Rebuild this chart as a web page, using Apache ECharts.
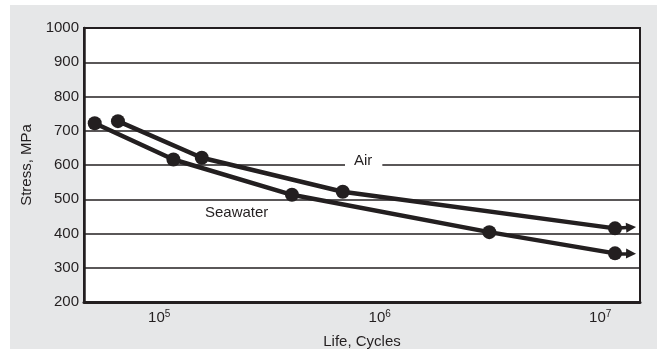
<!DOCTYPE html>
<html>
<head>
<meta charset="utf-8">
<script src="https://cdn.jsdelivr.net/npm/echarts@6/dist/echarts.min.js"></script>
<style>
  html, body { margin: 0; padding: 0; background: #ffffff; }
  #bg { position: absolute; left: 10px; top: 5px; width: 647px; height: 344px; background: #e6e7e8; }
  #chart { position: absolute; left: 0; top: 0; width: 657px; height: 349px; }
</style>
</head>
<body>
<div id="bg"></div>
<div id="chart"></div>
<script>
// Data (life in cycles, stress in MPa)
const airCycles = [65000, 156000, 680000, 11670000];
const airStress = [728, 621, 522, 415];
const seaCycles = [51000, 116000, 400000, 3140000, 11670000];
const seaStress = [722, 616, 513, 404, 342];
// Run-out arrows (start = last point, tip = arrow end)
const airArrowTip = [13800000, 418];
const seaArrowTip = [13800000, 341];
const yTicks = [200, 300, 400, 500, 600, 700, 800, 900, 1000];
const xMin = 45600, xMax = 15150000;

const INK = '#231f20';
const FONT = '"Liberation Sans", Arial, sans-serif';

const chart = echarts.init(document.getElementById('chart'), null, { renderer: 'canvas' });

function pairs(xs, ys) { return xs.map((x, i) => [x, ys[i]]); }

function arrowLine(xs, ys, tip) {
  return {
    silent: true,
    animation: false,
    symbol: ['none', 'triangle'],
    symbolSize: 10,
    label: { show: false },
    itemStyle: { color: INK },
    lineStyle: { color: INK, width: 3.5, type: 'solid' },
    emphasis: { disabled: true },
    data: [[{ coord: [xs[xs.length - 1], ys[ys.length - 1]] }, { coord: tip }]]
  };
}

const option = {
  backgroundColor: 'transparent',
  animation: false,
  textStyle: { fontFamily: FONT },
  grid: {
    left: 84, right: 17, top: 28, bottom: 47,
    containLabel: false, outerBoundsMode: 'none',
    show: true, backgroundColor: '#ffffff', borderColor: INK, borderWidth: 2
  },
  xAxis: {
    type: 'log', logBase: 10, min: xMin, max: xMax,
    name: 'Life, Cycles', nameLocation: 'middle', nameGap: 32,
    nameTextStyle: { color: INK, fontSize: 15, fontFamily: FONT },
    axisLine: { show: true, lineStyle: { color: INK, width: 3 } },
    axisTick: { show: false },
    splitLine: { show: false },
    minorTick: { show: false },
    axisLabel: {
      show: true, margin: 7, color: INK, fontSize: 15, fontFamily: FONT,
      showMinLabel: false, showMaxLabel: false,
      formatter: function (v) {
        const l = Math.log10(v);
        const r = Math.round(l);
        if (Math.abs(l - r) < 1e-6) return '{b|10}{sup|' + r + '}';
        return '';
      },
      rich: {
        b: { fontSize: 15, color: INK, fontFamily: FONT, lineHeight: 18 },
        sup: { fontSize: 10, color: INK, fontFamily: FONT, verticalAlign: 'top', lineHeight: 18, padding: [0, 0, 6, 0] }
      }
    }
  },
  yAxis: {
    type: 'value', min: yTicks[0], max: yTicks[yTicks.length - 1], interval: 100,
    name: 'Stress, MPa', nameLocation: 'middle', nameGap: 37,
    nameTextStyle: { color: INK, fontSize: 15, fontFamily: FONT },
    axisLine: { show: true, lineStyle: { color: INK, width: 2.5 } },
    axisTick: { show: false },
    axisLabel: { color: INK, fontSize: 15, fontFamily: FONT, margin: 5, formatter: function (v) { return String(v); } },
    splitLine: { show: true, lineStyle: { color: INK, width: 1.6 } }
  },
  graphic: [
    {
      type: 'text', left: 345, top: 151, z: 10,
      style: { text: 'Air', fill: INK, font: '15px ' + FONT, backgroundColor: '#ffffff', padding: [2, 10, 3, 9] }
    },
    {
      type: 'text', left: 205, top: 205, z: 10,
      style: { text: 'Seawater', fill: INK, font: '15px ' + FONT }
    }
  ],
  series: [
    {
      name: 'Air', type: 'line', data: pairs(airCycles, airStress),
      symbol: 'circle', symbolSize: 14, showAllSymbol: true,
      itemStyle: { color: INK }, lineStyle: { color: INK, width: 4.5 },
      emphasis: { disabled: true }, z: 5,
      markLine: arrowLine(airCycles, airStress, airArrowTip)
    },
    {
      name: 'Seawater', type: 'line', data: pairs(seaCycles, seaStress),
      symbol: 'circle', symbolSize: 14, showAllSymbol: true,
      itemStyle: { color: INK }, lineStyle: { color: INK, width: 4.5 },
      emphasis: { disabled: true }, z: 5,
      markLine: arrowLine(seaCycles, seaStress, seaArrowTip)
    }
  ]
};
chart.setOption(option);
</script>
</body>
</html>
